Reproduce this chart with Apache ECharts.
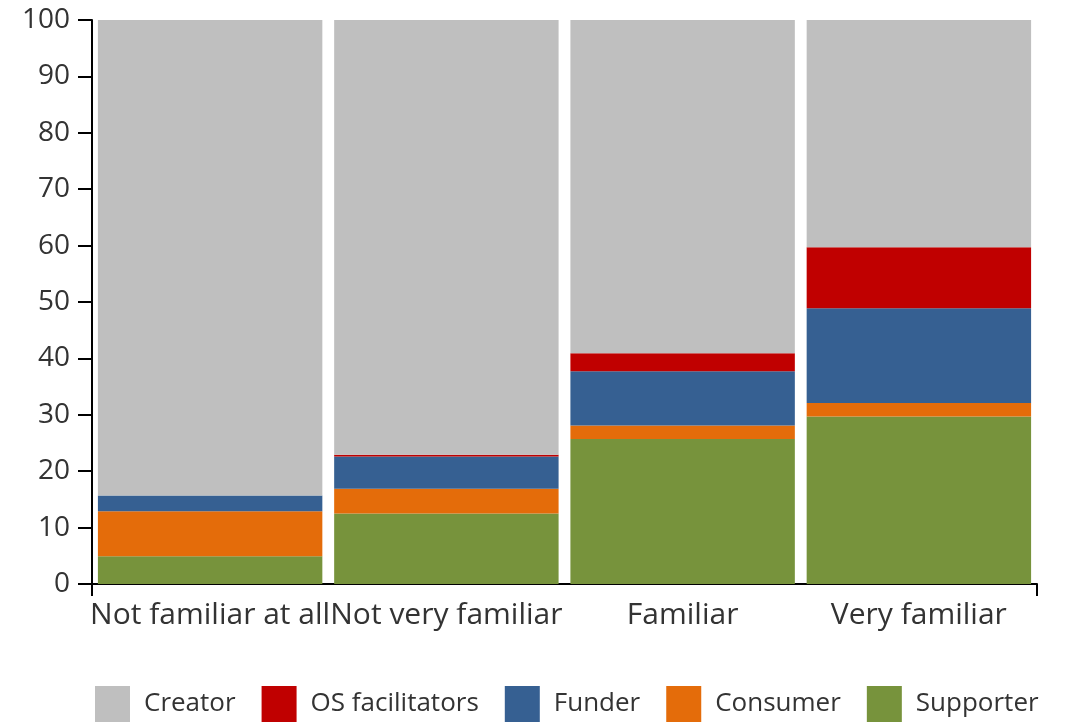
<!DOCTYPE html>
<html>
<head>
<meta charset="utf-8">
<script src="https://cdn.jsdelivr.net/npm/echarts@6/dist/echarts.min.js"></script>
<style>
  html, body { margin: 0; padding: 0; background: #fff; }
  #chart { width: 1066px; height: 724px; }
</style>
</head>
<body>
<div id="chart"></div>
<script>
var categories = ['Not familiar at all', 'Not very familiar', 'Familiar', 'Very familiar'];
var supporter = [4.9, 12.5, 25.7, 29.7];
var consumer = [8.0, 4.4, 2.4, 2.4];
var funder = [2.8, 5.7, 9.6, 16.8];
var osFacilitators = [0, 0.3, 3.2, 10.8];
var creator = [84.3, 77.1, 59.1, 40.3];
var yTicks = [0, 100, 10];
var legendOrder = ['Creator', 'OS facilitators', 'Funder', 'Consumer', 'Supporter'];

var chart = echarts.init(document.getElementById('chart'));

var font = '"Open Sans", "Noto Sans", sans-serif';

var mkSeries = function (name, data, color) {
    return {
        name: name,
        type: 'bar',
        stack: 'total',
        barCategoryGap: '5%',
        data: data,
        itemStyle: { color: color },
        emphasis: { disabled: true }
    };
};

var option = {
    animation: false,
    textStyle: { fontFamily: font },
    grid: { left: 92, right: 29, top: 20, bottom: 140 },
    legend: {
        data: legendOrder,
        left: 95,
        width: 1000,
        bottom: 2,
        padding: 0,
        itemWidth: 35,
        itemHeight: 36,
        itemGap: 26,
        icon: 'rect',
        textStyle: { fontSize: 26, color: '#333', fontFamily: font, padding: [0, 0, 0, 9] }
    },
    xAxis: [{
        type: 'category',
        data: categories,
        axisLine: { lineStyle: { color: '#000', width: 2 } },
        axisTick: { alignWithLabel: true, length: 12, lineStyle: { color: '#000', width: 2 } },
        axisLabel: { fontSize: 30, color: '#333', margin: 16, interval: 0 }
    }, {
        // only for the ticks at both ends of the axis
        type: 'value',
        position: 'bottom',
        min: 0, max: 1, interval: 1,
        axisLine: { show: false },
        axisTick: { show: true, length: 12, lineStyle: { color: '#000', width: 2 } },
        axisLabel: { show: false },
        splitLine: { show: false }
    }],
    yAxis: {
        type: 'value',
        min: yTicks[0],
        max: yTicks[1],
        interval: yTicks[2],
        axisLine: { show: true, lineStyle: { color: '#000', width: 2 } },
        axisTick: { show: true, length: 14, lineStyle: { color: '#000', width: 2 } },
        axisLabel: { fontSize: 28, color: '#333', margin: 22 },
        splitLine: { show: false }
    },
    series: [
        mkSeries('Supporter', supporter, '#77933c'),
        mkSeries('Consumer', consumer, '#e46c0a'),
        mkSeries('Funder', funder, '#366092'),
        mkSeries('OS facilitators', osFacilitators, '#c00000'),
        mkSeries('Creator', creator, '#bfbfbf')
    ]
};

chart.setOption(option);
</script>
</body>
</html>
